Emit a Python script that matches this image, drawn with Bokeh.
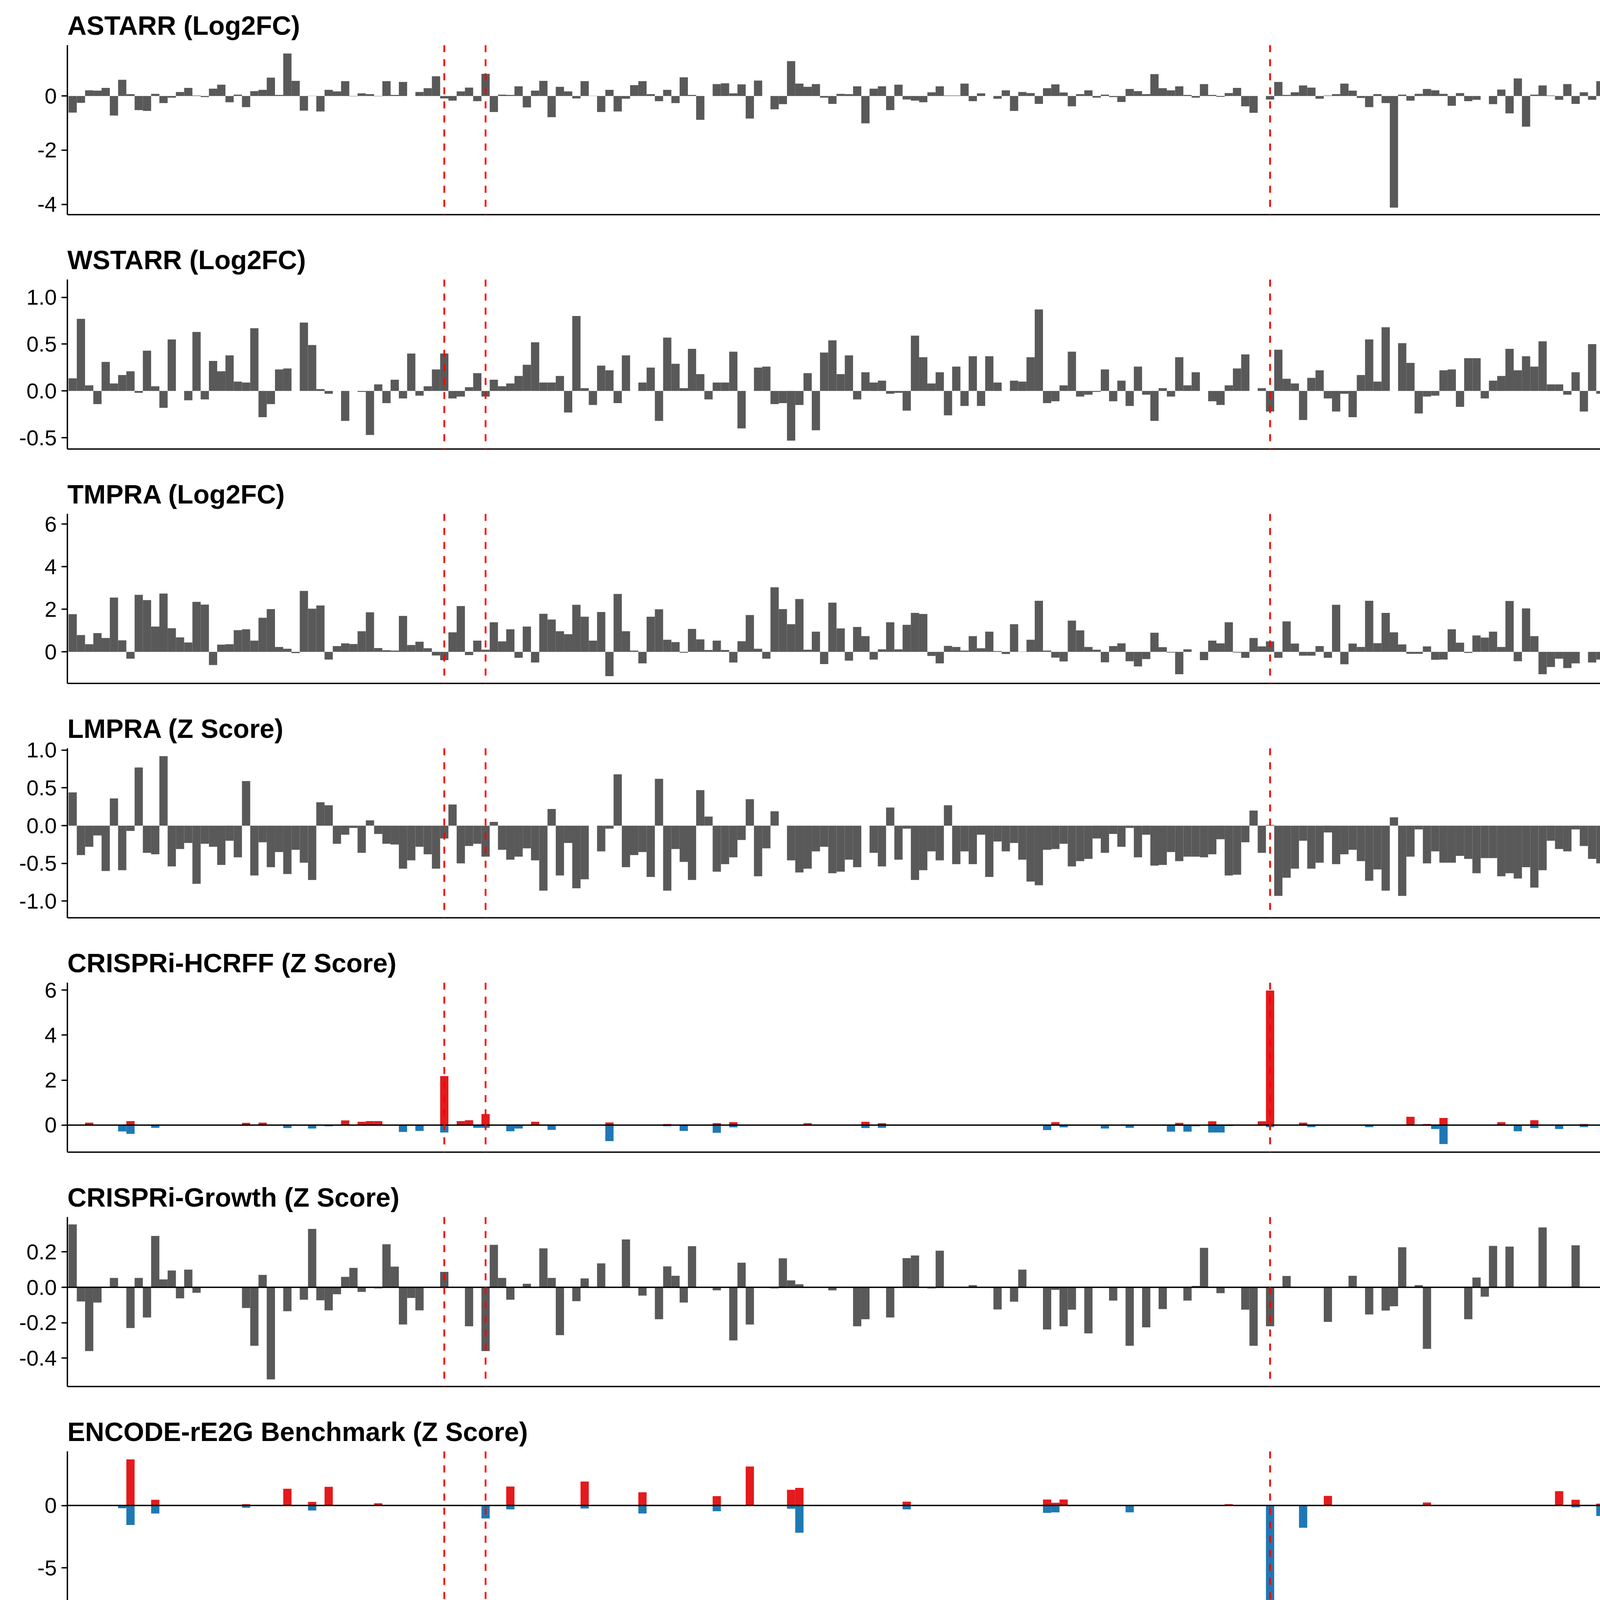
import math
from bokeh.plotting import figure
from bokeh.models import Range1d, FixedTicker, PrintfTickFormatter, Span
from bokeh.layouts import column
from bokeh.core.properties import value
from bokeh.embed import file_html
from bokeh.resources import INLINE

# ---------------- data ----------------
positions = list(range(1, 197))

astarr = [-0.61, -0.25, 0.21, 0.20, 0.30, -0.72, 0.60, 0.07, -0.52, -0.55,
          0.08, -0.26, -0.06, 0.15, 0.30, 0.02, -0.04, 0.27, 0.42, -0.23,
          0.05, -0.41, 0.18, 0.23, 0.68, 0.04, 1.57, 0.56, -0.54, 0.01,
          -0.57, 0.23, 0.17, 0.55, -0.01, 0.10, 0.07, -0.01, 0.55, 0.04,
          0.52, 0.0, 0.15, 0.29, 0.73, -0.09, -0.17, 0.17, 0.31, -0.19,
          0.82, -0.59, 0.05, 0.04, 0.36, -0.42, 0.20, 0.56, -0.78, 0.34,
          0.17, -0.09, 0.55, 0.01, -0.59, 0.23, -0.57, -0.10, 0.40, 0.55,
          0.07, -0.19, 0.23, -0.26, 0.69, 0.04, -0.88, 0.0, 0.44, 0.47,
          0.10, 0.43, -0.83, 0.57, 0.0, -0.49, -0.30, 1.29, 0.46, 0.34,
          0.44, -0.06, -0.29, 0.08, 0.07, 0.36, -1.01, 0.27, 0.36, -0.52,
          0.42, -0.13, -0.17, -0.23, 0.14, 0.36, 0.02, 0.02, 0.46, -0.19,
          0.10, 0.0, -0.10, 0.21, -0.55, 0.15, 0.11, -0.29, 0.29, 0.43,
          0.13, -0.38, 0.07, 0.21, -0.06, 0.05, -0.04, -0.22, 0.26, 0.18,
          0.07, 0.81, 0.29, 0.21, 0.36, 0.04, -0.06, 0.44, 0.04, -0.03,
          0.11, 0.30, -0.38, -0.62, 0.0, -0.13, 0.52, 0.04, 0.14, 0.39,
          0.31, -0.10, 0.02, 0.07, 0.46, 0.20, -0.07, -0.41, 0.07, -0.26,
          -4.12, 0.05, -0.17, 0.08, 0.26, 0.21, 0.08, -0.36, 0.11, -0.19,
          -0.14, 0.0, -0.30, 0.24, -0.64, 0.65, -1.13, 0.05, 0.39, 0.02,
          -0.14, 0.44, -0.29, 0.14, -0.14, 0.55, 0.15, -0.38, 0.24, -0.77,
          0.42, -0.71, -0.12, 0.55, -1.20, 0.30]

wstarr = [0.135, 0.77, 0.06, -0.14, 0.31, 0.08, 0.17, 0.21, -0.02, 0.43,
          0.05, -0.18, 0.55, 0.0, -0.10, 0.63, -0.09, 0.32, 0.21, 0.38,
          0.10, 0.09, 0.67, -0.28, -0.14, 0.23, 0.24, 0.0, 0.73, 0.49,
          0.02, -0.03, 0.0, -0.32, 0.0, -0.01, -0.47, 0.07, -0.13, 0.12,
          -0.08, 0.40, -0.05, 0.05, 0.23, 0.40, -0.08, -0.06, 0.04, 0.19,
          -0.06, 0.12, 0.05, 0.08, 0.16, 0.28, 0.52, 0.09, 0.09, 0.16,
          -0.23, 0.80, 0.03, -0.15, 0.27, 0.22, -0.13, 0.38, 0.0, 0.09,
          0.25, -0.32, 0.57, 0.29, 0.03, 0.45, 0.18, -0.09, 0.09, 0.09,
          0.42, -0.40, 0.0, 0.25, 0.26, -0.14, -0.13, -0.53, -0.15, 0.19,
          -0.42, 0.41, 0.54, 0.18, 0.38, -0.09, 0.20, 0.09, 0.11, -0.03,
          -0.02, -0.21, 0.59, 0.36, 0.08, 0.20, -0.26, 0.26, -0.16, 0.37,
          -0.16, 0.37, 0.09, 0.0, 0.11, 0.10, 0.36, 0.87, -0.13, -0.11,
          0.06, 0.42, -0.06, -0.04, -0.01, 0.23, -0.11, 0.11, -0.16, 0.26,
          -0.04, -0.32, 0.03, -0.06, 0.36, 0.06, 0.20, 0.0, -0.11, -0.15,
          0.06, 0.24, 0.39, 0.0, 0.03, -0.22, 0.44, 0.13, 0.08, -0.31,
          0.14, 0.22, -0.08, -0.22, -0.03, -0.28, 0.17, 0.55, 0.10, 0.68,
          0.0, 0.51, 0.30, -0.24, -0.06, -0.05, 0.22, 0.23, -0.17, 0.35,
          0.35, -0.08, 0.11, 0.16, 0.45, 0.22, 0.37, 0.26, 0.53, 0.07,
          0.07, -0.04, 0.20, -0.22, 0.50, -0.03, 0.04, 0.08, -0.13, 0.87,
          0.08, 1.11, -0.18, 0.0, -0.06, -0.28]

tmpra = [1.77, 0.79, 0.36, 0.88, 0.65, 2.55, 0.54, -0.32, 2.68, 2.43,
         1.19, 2.74, 1.11, 0.68, 0.44, 2.35, 2.22, -0.62, 0.34, 0.36,
         1.02, 1.06, 0.53, 1.60, 2.01, 0.23, 0.15, -0.06, 2.86, 2.03,
         2.18, -0.36, 0.27, 0.40, 0.37, 0.97, 1.86, 0.18, 0.08, 0.06,
         1.69, 0.32, 0.48, 0.17, -0.17, -0.39, 0.92, 2.15, -0.15, 0.53,
         0.10, 1.39, 0.49, 1.06, -0.28, 1.19, -0.50, 1.79, 1.52, 0.97,
         0.83, 2.21, 1.65, 0.53, 1.87, -1.14, 2.72, 0.97, 0.06, -0.54,
         1.65, 2.00, 0.57, 0.46, -0.04, 1.08, 0.59, 0.09, 0.53, 0.09,
         -0.50, 0.50, 1.73, 0.15, -0.32, 3.03, 2.01, 1.30, 2.48, 0.10,
         0.95, -0.57, 2.31, 1.10, -0.41, 1.17, 0.74, -0.36, 0.12, 1.39,
         0.12, 1.27, 1.83, 1.78, -0.19, -0.54, 0.28, 0.23, 0.06, 0.74,
         0.17, 0.95, 0.04, -0.10, 1.30, 0.01, 0.57, 2.40, 0.06, -0.27,
         -0.45, 1.47, 1.01, 0.23, 0.10, -0.49, 0.27, 0.40, -0.44, -0.68,
         -0.34, 0.90, 0.22, -0.03, -1.05, 0.12, 0.0, -0.39, 0.53, 0.40,
         1.39, -0.03, -0.28, 0.65, 0.26, 0.49, -0.28, 1.43, 0.39, -0.18,
         -0.18, 0.27, -0.28, 2.21, -0.58, 0.39, 0.23, 2.40, 0.41, 1.83,
         0.92, 0.35, -0.09, -0.09, 0.26, -0.37, -0.36, 1.06, 0.43, -0.05,
         0.77, 0.67, 0.95, 0.23, 2.39, -0.44, 2.04, 0.74, -1.05, -0.71,
         -0.32, -0.76, -0.54, 0.0, -0.50, -0.36, 0.57, -0.02, -0.05, 6.08,
         -0.10, 3.07, 0.26, 0.58, 2.31, 1.15]

lmpra = [0.44, -0.39, -0.28, -0.13, -0.60, 0.36, -0.59, -0.07, 0.77, -0.36,
         -0.38, 0.92, -0.54, -0.31, -0.23, -0.77, -0.24, -0.28, -0.52, -0.20,
         -0.42, 0.59, -0.66, -0.22, -0.55, -0.35, -0.64, -0.32, -0.49, -0.72,
         0.31, 0.27, -0.24, -0.12, -0.03, -0.36, 0.07, -0.11, -0.24, -0.25,
         -0.57, -0.46, -0.28, -0.38, -0.57, -0.17, 0.28, -0.50, -0.27, -0.24,
         -0.41, 0.05, -0.32, -0.45, -0.41, -0.30, -0.46, -0.86, 0.22, -0.66,
         -0.23, -0.83, -0.71, 0.0, -0.34, -0.04, 0.68, -0.55, -0.39, -0.35,
         -0.68, 0.62, -0.86, -0.31, -0.48, -0.72, 0.47, 0.12, -0.61, -0.51,
         -0.42, -0.19, 0.35, -0.67, -0.30, 0.19, 0.0, -0.46, -0.62, -0.57,
         -0.34, -0.28, -0.63, -0.61, -0.45, -0.55, 0.0, -0.36, -0.54, 0.24,
         -0.45, -0.04, -0.72, -0.59, -0.34, -0.46, 0.27, -0.51, -0.34, -0.51,
         -0.12, -0.68, -0.21, -0.34, -0.23, -0.45, -0.74, -0.79, -0.32, -0.31,
         -0.24, -0.54, -0.47, -0.44, -0.17, -0.36, -0.11, -0.28, -0.03, -0.42,
         -0.12, -0.53, -0.52, -0.35, -0.47, -0.41, -0.41, -0.42, -0.38, -0.18,
         -0.66, -0.65, -0.22, 0.20, -0.36, 0.01, -0.93, -0.69, -0.57, -0.20,
         -0.57, -0.49, -0.09, -0.51, -0.38, -0.32, -0.47, -0.73, -0.58, -0.86,
         0.11, -0.93, -0.41, -0.05, -0.50, -0.34, -0.49, -0.49, -0.40, -0.44,
         -0.63, -0.43, -0.43, -0.67, -0.63, -0.70, -0.55, -0.82, -0.59, -0.20,
         -0.31, -0.34, -0.05, -0.27, -0.44, -0.50, -0.64, -0.03, -0.40, -1.12,
         -0.62, -1.01, -0.08, -0.91, -0.28, -0.57]

hcrff_up_pos = [3, 8, 22, 24, 34, 36, 37, 38, 46, 48, 49, 51, 57, 66, 73, 79, 81, 90, 97, 99,
                120, 135, 139, 145, 146, 150, 163, 165, 167, 174, 178, 184, 187, 189]
hcrff_up_val = [0.11, 0.18, 0.10, 0.11, 0.21, 0.15, 0.18, 0.18, 2.18, 0.18, 0.22, 0.49, 0.15, 0.12,
                0.05, 0.09, 0.13, 0.09, 0.15, 0.09, 0.13, 0.10, 0.17, 0.17, 5.98, 0.11, 0.37, 0.05,
                0.32, 0.13, 0.22, 0.05, 0.30, 0.09]
hcrff_down_pos = [7, 8, 11, 27, 30, 32, 41, 43, 46, 50, 51, 54, 55, 59, 66, 73, 75, 79, 81, 84,
                  97, 99, 119, 121, 126, 129, 134, 136, 137, 139, 140, 141, 146, 151, 153, 158,
                  166, 167, 173, 176, 178, 181, 184, 189, 196]
hcrff_down_val = [-0.28, -0.39, -0.12, -0.13, -0.15, -0.05, -0.30, -0.26, -0.33, -0.12, -0.12,
                  -0.27, -0.15, -0.21, -0.71, -0.05, -0.26, -0.34, -0.10, -0.02, -0.13, -0.12,
                  -0.22, -0.10, -0.15, -0.12, -0.29, -0.29, -0.05, -0.33, -0.33, -0.04, -0.09,
                  -0.09, -0.02, -0.09, -0.17, -0.84, -0.02, -0.27, -0.13, -0.17, -0.09, -0.04, -0.13]

growth = [0.355, -0.08, -0.36, -0.086, 0.0, 0.053, 0.0, -0.23, 0.053, -0.17,
          0.29, 0.045, 0.095, -0.062, 0.10, -0.031, 0.0, 0.0, 0.0, 0.0,
          0.0, -0.117, -0.33, 0.07, -0.52, 0.0, -0.135, 0.0, -0.07, 0.33,
          -0.073, -0.13, -0.039, 0.059, 0.11, -0.026, 0.0, -0.006, 0.243, 0.117,
          -0.21, -0.06, -0.13, 0.0, 0.0, 0.087, 0.0, 0.0, -0.22, 0.0,
          -0.36, 0.24, 0.053, -0.07, 0.0, 0.02, 0.0, 0.22, 0.053, -0.27,
          0.0, -0.078, 0.05, 0.0, 0.135, 0.0, 0.0, 0.27, 0.0, -0.047,
          0.0, -0.18, 0.118, 0.065, -0.086, 0.232, 0.0, 0.0, -0.017, 0.0,
          -0.30, 0.139, -0.21, 0.0, 0.0, -0.006, 0.164, 0.039, 0.017, 0.0,
          0.0, 0.0, -0.017, 0.0, 0.0, -0.22, -0.18, 0.0, 0.0, -0.17,
          0.0, 0.165, 0.18, 0.0, -0.006, 0.207, 0.0, 0.0, 0.0, 0.012,
          0.0, 0.0, -0.125, 0.0, -0.081, 0.10, 0.0, 0.0, -0.238, -0.014,
          -0.22, -0.126, 0.0, -0.26, 0.0, 0.0, -0.075, 0.0, -0.33, 0.0,
          -0.226, 0.0, -0.123, 0.0, 0.0, -0.075, 0.008, 0.223, 0.0, -0.033,
          0.0, 0.0, -0.126, -0.33, 0.0, -0.22, 0.0, 0.064, 0.0, 0.0,
          0.0, 0.0, -0.195, 0.0, 0.0, 0.065, 0.0, -0.153, 0.0, -0.131,
          -0.107, 0.226, 0.0, 0.012, -0.347, 0.0, 0.0, 0.0, 0.0, -0.18,
          0.055, -0.053, 0.234, 0.0, 0.23, 0.0, 0.0, 0.0, 0.338, 0.0,
          0.0, 0.0, 0.237, 0.0, 0.0, 0.0, 0.0, 0.212, -0.081, 0.0,
          0.0, 0.0, 0.0, 0.0, 0.0, 0.034]

encode_up_pos = [8, 11, 22, 27, 30, 32, 38, 54, 63, 70, 79, 83, 88, 89, 102, 119, 120, 121,
                 141, 153, 165, 181, 183, 186, 188, 189, 196]
encode_up_val = [3.70, 0.46, 0.11, 1.34, 0.29, 1.50, 0.18, 1.52, 1.92, 1.06, 0.75, 3.13, 1.26,
                 1.41, 0.31, 0.48, 0.22, 0.48, 0.11, 0.77, 0.24, 1.15, 0.46, 0.15, 1.56, 0.59, 1.63]
encode_down_pos = [7, 8, 11, 22, 30, 49, 51, 54, 63, 70, 79, 88, 89, 102, 119, 120, 129, 146,
                   150, 183, 186, 188]
encode_down_val = [-0.22, -1.56, -0.64, -0.18, -0.40, -0.05, -1.04, -0.31, -0.24, -0.64, -0.46,
                   -0.26, -2.18, -0.31, -0.59, -0.55, -0.55, -8.61, -1.78, -0.15, -0.84, -0.59]

atac = [2.7, 2.6, 2.4, 7.1, 2.9, 3.1, 1.5, 1.8, 1.9, 5.0,
        2.2, 2.2, 4.5, 10.8, 2.6, 4.1, 5.8, 1.9, 1.7, 1.7,
        3.5, 11.3, 2.4, 2.1, 1.7, 3.1, 9.5, 2.1, 3.6, 14.6,
        2.8, 2.9, 2.6, 10.3, 3.75, 5.3, 2.6, 17.1, 3.75, 3.2,
        6.0, 4.3, 1.7, 2.7, 2.5, 4.7, 1.7, 4.7, 4.1, 2.2,
        8.2, 3.75, 3.2, 4.9, 1.7, 13.4, 2.6, 21.2, 2.6, 5.7,
        2.1, 6.0, 8.75, 2.4, 1.5, 1.8, 2.1, 2.1, 2.1, 2.1,
        1.9, 3.75, 18.6, 9.8, 3.6, 28.9, 3.2, 1.7, 4.1, 4.7,
        9.1, 2.8, 6.0, 2.2, 1.9, 1.9, 6.8, 3.7, 3.2, 1.5,
        1.5, 2.3, 35.1, 2.1, 2.3, 11.8, 20.1, 4.3, 1.8, 13.75,
        2.2, 3.0, 2.6, 1.7, 2.0, 2.2, 3.1, 2.8, 1.7, 2.2,
        1.7, 1.7, 3.6, 1.9, 3.5, 7.9, 3.75, 6.4, 3.5, 2.5,
        3.6, 8.5, 1.9, 5.1, 2.1, 1.4, 12.1, 1.5, 4.0, 1.9,
        1.7, 5.7, 5.1, 2.9, 1.7, 3.6, 11.8, 2.1, 2.6, 2.5,
        2.6, 3.6, 1.7, 3.75, 1.5, 20.4, 2.8, 21.5, 1.7, 3.1,
        1.4, 2.2, 4.5, 1.9, 3.75, 3.1, 1.7, 14.8, 1.5, 2.2,
        20.7, 3.1, 2.1, 1.9, 5.3, 2.2, 6.0, 2.2, 1.9, 3.5,
        4.0, 1.5, 7.1, 2.2, 5.1, 1.5, 2.1, 2.4, 1.9, 1.5,
        3.2, 1.9, 2.6, 2.1, 3.1, 2.1, 3.75, 2.4, 3.1, 2.2,
        1.7, 1.7, 2.6, 1.7, 1.7, 5.1]

marker_pos = [46, 51, 146]
marker_labels = ["HBE1 promoter", "LCR HS5", "LCR HS3"]
marker_label_y = 50

# ---------------- style ----------------
GRAY = "#595959"
RED = "#E41A1C"
BLUE = "#1F78B4"
VLINE = "#FF0000"
FONT = "Liberation Sans"
W = 4484
X_RANGE = (0.36, 196.95)


def make_fig(title, yr, ticks, fmt, height, top, bottom):
    p = figure(width=W, height=height, x_range=Range1d(*X_RANGE), y_range=Range1d(*yr),
               output_backend="svg", toolbar_location=None,
               min_border_left=172, min_border_right=156,
               min_border_top=top, min_border_bottom=bottom)
    p.title.text = title
    p.title.align = "left"
    p.title.text_font = FONT
    p.title.text_font_style = "bold"
    p.title.text_font_size = "68px"
    p.title.text_color = "black"
    p.title.standoff = 26
    p.grid.visible = False
    p.outline_line_color = None
    p.background_fill_color = "white"
    p.border_fill_color = "white"
    ya = p.yaxis[0]
    ya.ticker = FixedTicker(ticks=ticks)
    ya.formatter = PrintfTickFormatter(format=fmt)
    ya.major_label_text_font = FONT
    ya.major_label_text_font_size = "56px"
    ya.major_label_text_color = "black"
    ya.axis_line_color = "black"
    ya.axis_line_width = 3.5
    ya.major_tick_line_color = "black"
    ya.major_tick_line_width = 3.5
    ya.major_tick_out = 15
    ya.major_tick_in = 0
    ya.minor_tick_line_color = None
    ya.major_label_standoff = 12
    xa = p.xaxis[0]
    xa.ticker = FixedTicker(ticks=[])
    xa.axis_line_color = "black"
    xa.axis_line_width = 3.5
    xa.major_tick_line_color = None
    xa.minor_tick_line_color = None
    xa.major_label_standoff = 0
    return p


def add_vlines(p):
    for xv in marker_pos:
        p.add_layout(Span(location=xv, dimension="height", line_color=VLINE,
                          line_width=4.5, line_dash="18 18"))


def add_zero(p):
    p.add_layout(Span(location=0, dimension="width", line_color="black", line_width=3.5))


figs = []
H, TOP, BOT = 600, 115, 51

p1 = make_fig("ASTARR (Log2FC)", (-4.38, 1.88), [-4, -2, 0], "%d", H, TOP, BOT)
p1.vbar(x=positions, top=astarr, bottom=0, width=1.0, fill_color=GRAY, line_color=None)
add_vlines(p1)
figs.append(p1)

p2 = make_fig("WSTARR (Log2FC)", (-0.62, 1.19), [-0.5, 0, 0.5, 1.0], "%.1f", H, TOP, BOT)
p2.vbar(x=positions, top=wstarr, bottom=0, width=1.0, fill_color=GRAY, line_color=None)
add_vlines(p2)
figs.append(p2)

p3 = make_fig("TMPRA (Log2FC)", (-1.48, 6.48), [0, 2, 4, 6], "%d", H, TOP, BOT)
p3.vbar(x=positions, top=tmpra, bottom=0, width=1.0, fill_color=GRAY, line_color=None)
add_vlines(p3)
figs.append(p3)

p4 = make_fig("LMPRA (Z Score)", (-1.22, 1.025), [-1.0, -0.5, 0, 0.5, 1.0], "%.1f", H, TOP, BOT)
p4.vbar(x=positions, top=lmpra, bottom=0, width=1.0, fill_color=GRAY, line_color=None)
add_vlines(p4)
figs.append(p4)

p5 = make_fig("CRISPRi-HCRFF (Z Score)", (-1.2, 6.33), [0, 2, 4, 6], "%d", H, TOP, BOT)
p5.vbar(x=hcrff_up_pos, top=hcrff_up_val, bottom=0, width=1.0, fill_color=RED, line_color=None)
p5.vbar(x=hcrff_down_pos, top=hcrff_down_val, bottom=0, width=1.0, fill_color=BLUE, line_color=None)
add_zero(p5)
add_vlines(p5)
figs.append(p5)

p6 = make_fig("CRISPRi-Growth (Z Score)", (-0.56, 0.397), [-0.4, -0.2, 0, 0.2], "%.1f", H, TOP, BOT)
p6.vbar(x=positions, top=growth, bottom=0, width=1.0, fill_color=GRAY, line_color=None)
add_zero(p6)
add_vlines(p6)
figs.append(p6)

p7 = make_fig("ENCODE-rE2G Benchmark (Z Score)", (-9.25, 4.34), [-5, 0], "%d", H, TOP, BOT)
p7.vbar(x=encode_up_pos, top=encode_up_val, bottom=0, width=1.0, fill_color=RED, line_color=None)
p7.vbar(x=encode_down_pos, top=encode_down_val, bottom=0, width=1.0, fill_color=BLUE, line_color=None)
add_zero(p7)
add_vlines(p7)
figs.append(p7)

# last panel: frame ends a little above the page bottom so the "0" label fits
p8 = make_fig("ATAC (TPM)", (0, 150.4), [0, 50, 100, 150], "%d", 1004, 106, 32)
p8.vbar(x=positions, top=atac, bottom=0, width=1.0, fill_color=GRAY, line_color=None)
p8.segment(x0=marker_pos, y0=[0] * len(marker_pos), x1=marker_pos,
           y1=[marker_label_y] * len(marker_pos), line_color=VLINE, line_width=4.5,
           line_dash="18 18")
p8.text(x=marker_pos, y=[marker_label_y] * len(marker_pos), text=marker_labels,
        angle=math.radians(45), text_align="left", text_baseline="alphabetic",
        text_color=VLINE, text_font=value(FONT), text_font_size=value("48px"))
figs.append(p8)

layout = column(*figs, spacing=0)
open("out.html", "w").write(file_html(layout, INLINE))
